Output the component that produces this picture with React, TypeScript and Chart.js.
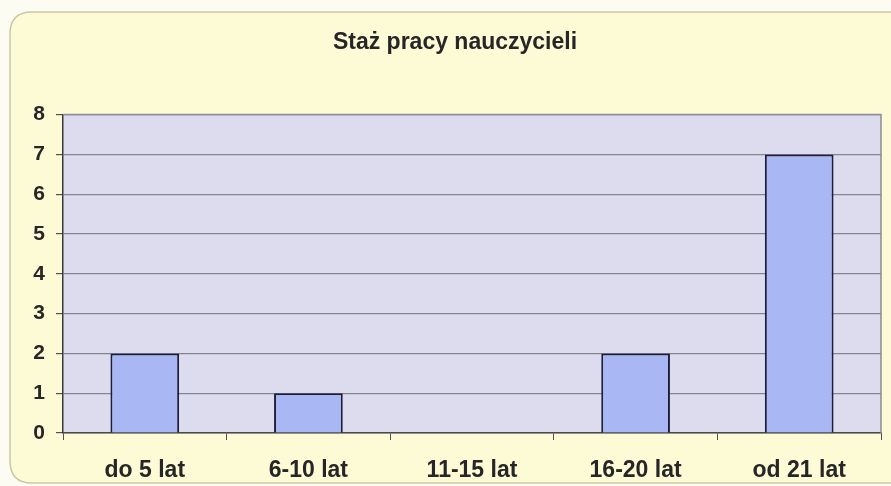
import React, { useEffect, useRef } from "react";
import { Chart, registerables } from "chart.js";

Chart.register(...registerables);

const title = "Staż pracy nauczycieli";
const categories = ["do 5 lat", "6-10 lat", "11-15 lat", "16-20 lat", "od 21 lat"];
const values = [2, 1, 0, 2, 7];
const yTicks = [0, 1, 2, 3, 4, 5, 6, 7, 8];

const FONT = "'Liberation Sans', Arial, sans-serif";

const backgroundPlugin = {
  id: "bgPlugin",
  beforeDraw(chart: any) {
    const { ctx, chartArea } = chart;
    ctx.save();
    ctx.fillStyle = "#fdfcf3";
    ctx.fillRect(0, 0, chart.width, chart.height);
    // rounded frame
    const x = 10, y = 12, w = 900, h = 471, r = 22;
    ctx.beginPath();
    ctx.moveTo(x + r, y);
    ctx.lineTo(x + w - r, y);
    ctx.quadraticCurveTo(x + w, y, x + w, y + r);
    ctx.lineTo(x + w, y + h - r);
    ctx.quadraticCurveTo(x + w, y + h, x + w - r, y + h);
    ctx.lineTo(x + r, y + h);
    ctx.quadraticCurveTo(x, y + h, x, y + h - r);
    ctx.lineTo(x, y + r);
    ctx.quadraticCurveTo(x, y, x + r, y);
    ctx.closePath();
    ctx.fillStyle = "#fdfad6";
    ctx.fill();
    ctx.lineWidth = 1.5;
    ctx.strokeStyle = "#c9c7a8";
    ctx.stroke();
    // plot area
    ctx.fillStyle = "#dddcef";
    ctx.fillRect(chartArea.left, chartArea.top, chartArea.right - chartArea.left, chartArea.bottom - chartArea.top);
    ctx.restore();
  },
  afterDatasetsDraw(chart: any) {
    const { ctx, chartArea } = chart;
    ctx.save();
    ctx.strokeStyle = "#8c8c96";
    ctx.lineWidth = 1.5;
    ctx.beginPath();
    ctx.moveTo(chartArea.left, chartArea.top);
    ctx.lineTo(chartArea.right, chartArea.top);
    ctx.lineTo(chartArea.right, chartArea.bottom);
    ctx.stroke();
    ctx.restore();
  },
};

export default function App() {
  const ref = useRef<HTMLCanvasElement>(null);
  useEffect(() => {
    if (!ref.current) return;
    const chart = new Chart(ref.current, {
      type: "bar",
      data: {
        labels: categories,
        datasets: [
          {
            data: values,
            backgroundColor: "#a9b7f4",
            borderColor: "#1e1e3c",
            borderWidth: 2,
            categoryPercentage: 1,
            barPercentage: 0.42,
          },
        ],
      },
      options: {
        animation: false,
        responsive: false,
        maintainAspectRatio: false,
        layout: { padding: { left: 29, right: 10, top: 0, bottom: 6 } },
        plugins: {
          legend: { display: false },
          tooltip: { enabled: false },
          title: {
            display: true,
            text: title,
            color: "#262626",
            font: { family: FONT, size: 23, weight: "bold" },
            padding: { top: 29, bottom: 58 },
          },
        },
        scales: {
          x: {
            afterFit(scale: any) {
              scale.height = 47;
            },
            grid: {
              display: true,
              drawOnChartArea: false,
              drawTicks: true,
              tickLength: 7,
              tickColor: "#505050",
              offset: true,
            },
            border: { display: true, color: "#4a4a4a", width: 1.5 },
            ticks: {
              color: "#262626",
              font: { family: FONT, size: 23, weight: "bold" },
              padding: 17,
              maxRotation: 0,
            },
          },
          y: {
            min: 0,
            max: 8,
            afterFit(scale: any) {
              scale.width = 34;
            },
            afterBuildTicks(scale: any) {
              scale.ticks = yTicks.map((v) => ({ value: v }));
            },
            grid: {
              color: "#85858f",
              lineWidth: 1.2,
              drawTicks: true,
              tickLength: 7,
              tickColor: "#505050",
            },
            border: { display: true, color: "#3a3a3a", width: 1.5 },
            ticks: {
              color: "#262626",
              font: { family: FONT, size: 21, weight: "bold" },
              padding: 11,
              stepSize: 1,
            },
          },
        },
      },
      plugins: [backgroundPlugin],
    });
    return () => chart.destroy();
  }, []);
  return (
    <div style={{ position: "fixed", left: 0, top: 0, width: 891, height: 486 }}>
      <canvas ref={ref} width={891} height={486} style={{ width: 891, height: 486, display: "block" }} />
    </div>
  );
}
